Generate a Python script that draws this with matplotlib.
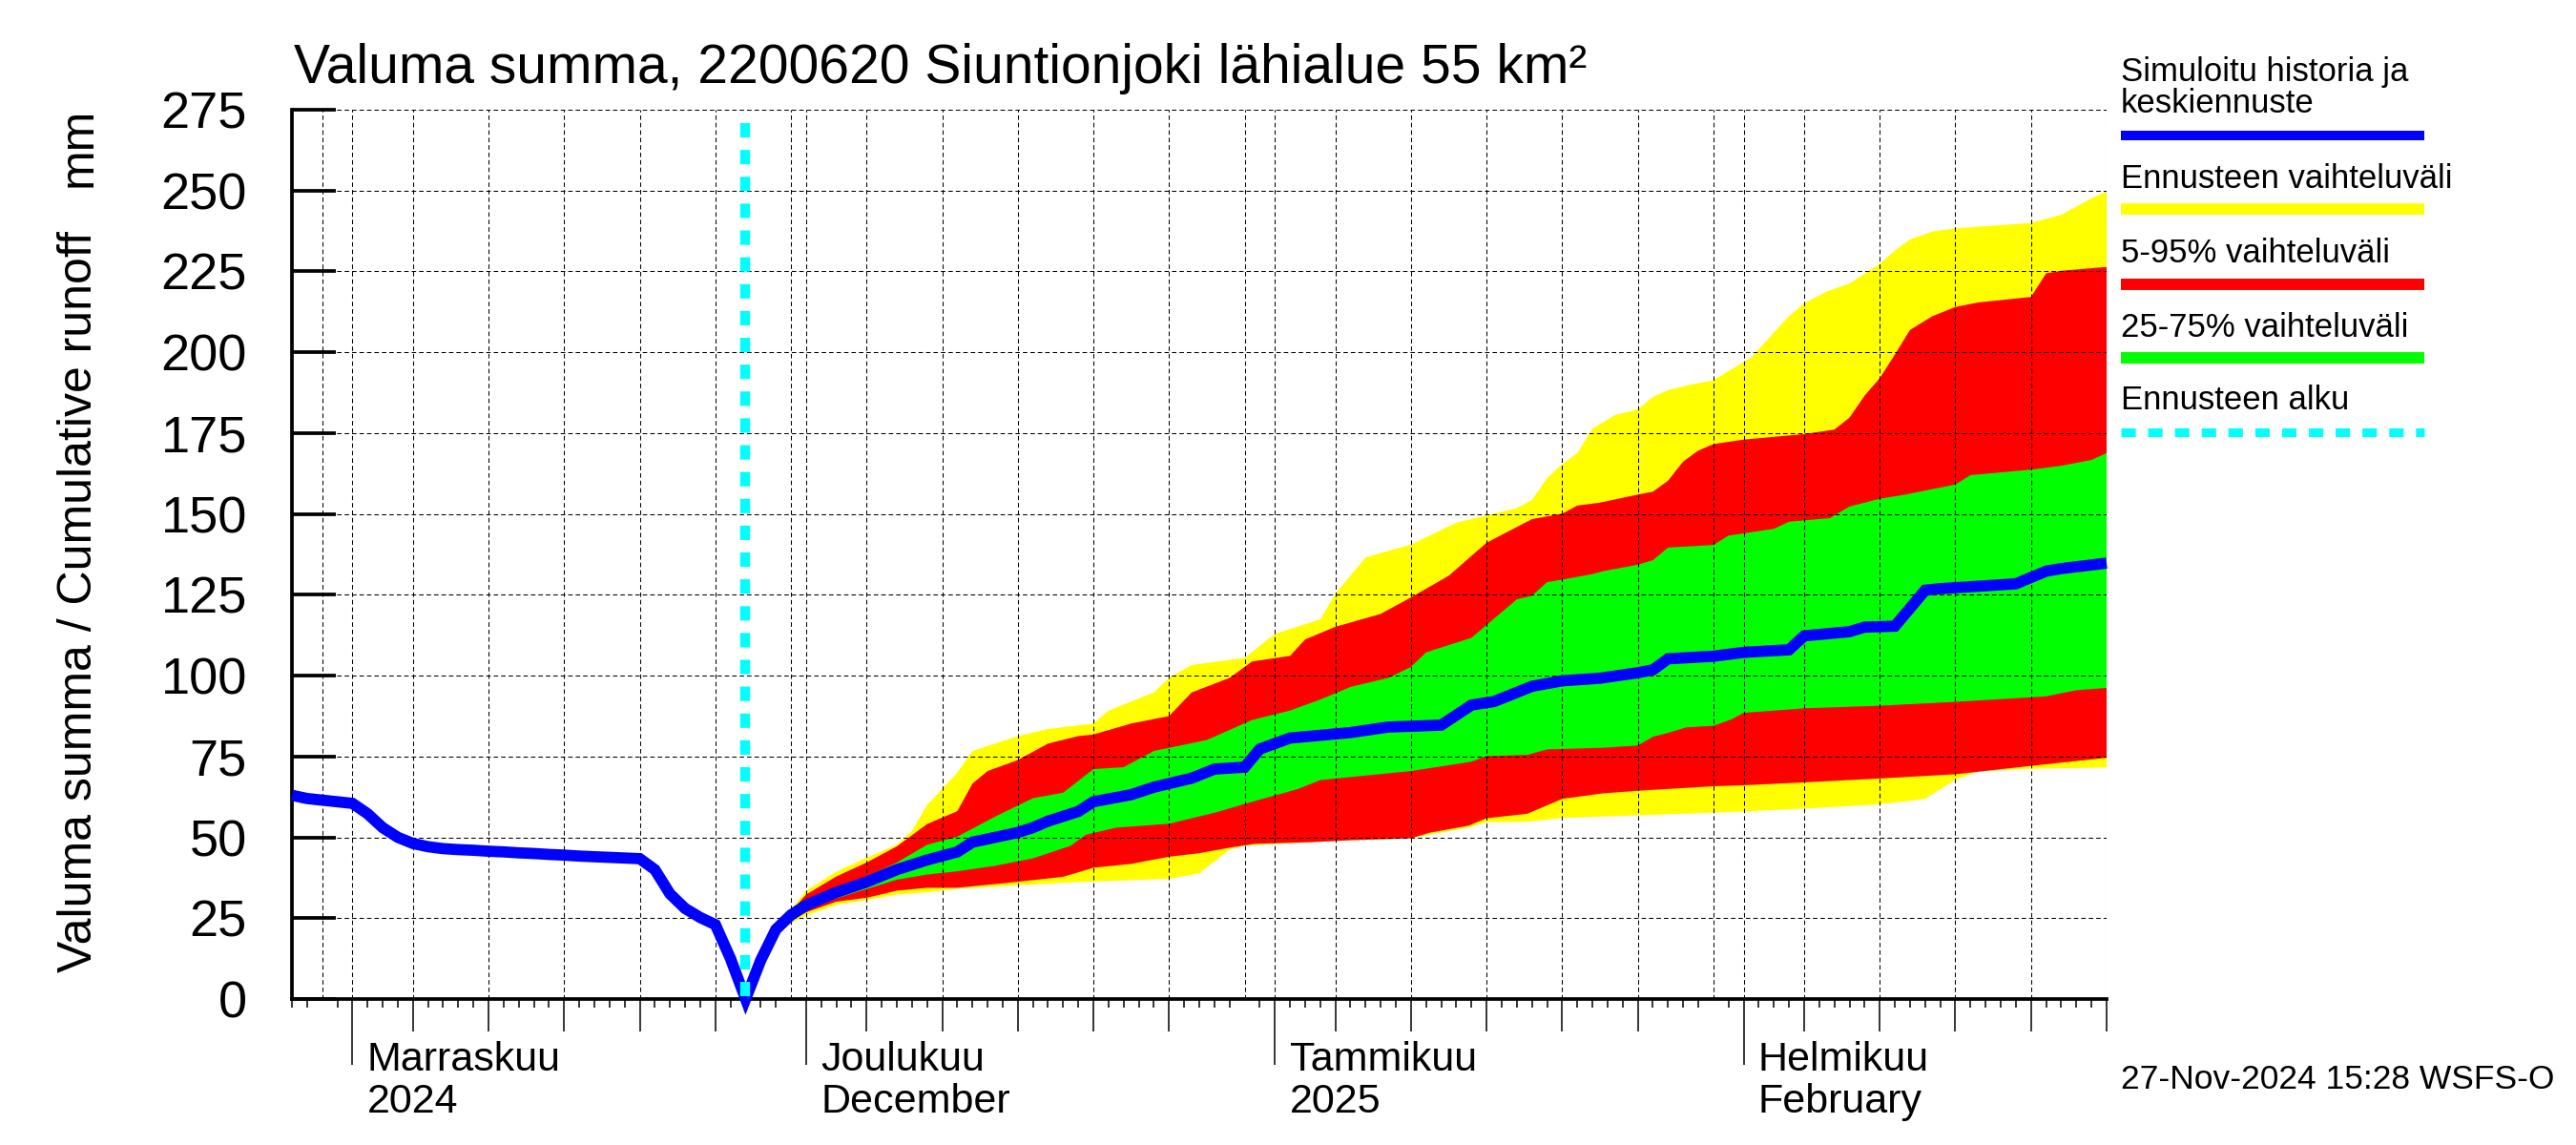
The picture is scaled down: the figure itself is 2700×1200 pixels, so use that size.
import numpy as np
import pandas as pd
import matplotlib
matplotlib.use("Agg")
import matplotlib.pyplot as plt
import matplotlib.dates as mdates
import matplotlib.ticker as mticker
from matplotlib.lines import Line2D

plt.rcParams['font.family'] = ['Liberation Sans', 'DejaVu Sans']

# %% Data (päivät laskettu 1.11.2024 alkaen)

hist_paivat = list(range(-4, 27))
hist_arvot = [63.0, 62.0, 61.5, 61.0, 60.5, 57.3, 53.0, 50.0, 48.1, 47.1, 46.5, 46.2, 46.0, 45.7,
              45.5, 45.2, 45.0, 44.7, 44.5, 44.2, 44.0, 43.8, 43.6, 43.4, 40.0, 32.5, 28.0, 25.2,
              23.0, 12.5, 0.0]

med_paivat = [26, 27, 28, 29, 30, 32, 34, 36, 38, 40, 41, 44, 45, 46, 48, 49, 51.5, 53, 55.5, 57,
              59, 60, 62, 66, 68.5, 72, 74, 75.5, 78, 80, 82.5, 85, 86, 87, 90, 92, 95, 96, 99,
              100, 102, 104, 105, 107, 110, 112, 113, 116]
med_arvot = [0, 12, 21.5, 26, 29, 33, 36.2, 40, 43, 45.5, 48.5, 51.5, 53, 55, 58, 61, 63.2, 65.5,
             68.3, 71.1, 71.7, 77.3, 80.7, 82.4, 84.1, 84.7, 90.9, 92, 96.7, 98.4, 99.2, 100.9,
             101.8, 105.2, 106.0, 107.2, 108.0, 112.3, 113.6, 115.0, 115.3, 126.4, 126.9, 127.5,
             128.4, 132.3, 133.1, 134.8]

max_paivat = [26, 27, 28, 30, 32, 34, 36, 37, 38, 40, 41, 44, 46, 49, 50, 53, 54, 55.5, 59, 61,
              64, 65, 67, 70, 73, 77, 78, 79, 80, 81, 82, 83.5, 85, 86, 87, 88.5, 90, 91, 92.5,
              94, 95, 96, 97.5, 99, 101, 102, 103, 104.5, 106, 111, 113, 115, 116]
max_arvot = [0, 12, 22, 33.5, 39.4, 43.7, 47.7, 52, 60, 70, 76.7, 81.3, 83.5, 85.2, 89.2, 94.8,
             99.3, 103.3, 105.5, 112.9, 117.4, 125.3, 136.6, 140.5, 147.3, 151.8, 154.3, 161.1,
             165.4, 168.8, 176.4, 180.6, 182.3, 186.2, 188.3, 190.0, 191.3, 194.2, 198.4, 206.1,
             211.2, 215.1, 218.8, 221.3, 227.3, 231.5, 234.9, 237.4, 238.3, 240.0, 242.5, 247.6,
             249.7]

p95_paivat = [26, 27, 28, 30, 32, 34, 36, 38, 40, 41, 42, 44, 46, 48, 49, 51.5, 54, 55.5, 58, 59.5,
              62, 63, 65, 68, 70, 72.5, 75, 78, 80, 81, 82.5, 85, 86, 87, 88, 89, 90, 92, 96, 98,
              99, 100, 101, 102, 103, 104.5, 106, 107.5, 111, 112, 113, 116]
p95_arvot = [0, 12, 21.8, 32.3, 37.9, 42.2, 47.2, 54.1, 58.1, 66.6, 70.5, 73.9, 79, 81.3, 81.8,
             85.2, 87.5, 94.8, 99.3, 104.4, 106.1, 111.2, 115.1, 119.1, 124.2, 130.9, 141.1, 148.4,
             150.1, 152.6, 153.5, 156.0, 156.9, 160.3, 166.2, 169.6, 171.6, 173.0, 174.7, 176.1,
             179.8, 186.6, 192.0, 199.3, 206.9, 211.2, 214.0, 215.4, 217.1, 224.4, 225.2, 226.4]

p75_paivat = [26, 27, 28, 30, 32, 34, 36, 38, 40, 42.5, 45, 47, 49, 51, 53, 56.5, 59.5, 62, 64, 66,
              68.5, 70, 71, 74, 77, 78, 79, 80, 82, 82.7, 85, 86, 87, 90, 91, 94, 95, 97.7, 99,
              101, 102.7, 106, 107, 111, 113, 115, 116]
p75_arvot = [0, 12, 21.6, 30.7, 34.5, 37.9, 42.2, 47.7, 50.2, 56.4, 62.1, 63.8, 71.1, 71.7, 76.7,
             80.1, 86.3, 89.2, 92.6, 96.5, 99.3, 102.7, 107.2, 111.7, 123.6, 124.7, 128.9, 129.7,
             131.4, 132.3, 134.3, 135.7, 139.6, 140.4, 143.3, 145.4, 147.6, 148.7, 152.3, 154.7,
             156.0, 159.1, 162.0, 163.7, 164.9, 166.7, 168.8]

p25_paivat = [26, 27, 28, 30, 32, 34, 36, 38, 40, 42.5, 45, 47.5, 48.5, 50.5, 54, 57, 59.5, 62.5,
              64, 70, 74, 75, 77.7, 79, 82.7, 85, 86, 87, 88.2, 90, 91.2, 92, 96, 101, 106, 111,
              112, 114, 116]
p25_arvot = [0, 12, 21.4, 28.1, 31.1, 34.0, 36.9, 38.5, 39.5, 41.2, 43.5, 47.4, 50.8, 53.0, 54.2,
             57.6, 61.0, 64.9, 67.7, 70.5, 73.4, 75.1, 75.5, 77.2, 77.7, 78.4, 81.1, 82.3, 84.0,
             84.5, 86.5, 88.5, 89.9, 90.7, 91.9, 93.3, 93.6, 95.5, 96.2]

p05_paivat = [26, 27, 28, 30, 32, 34, 36, 38, 40, 43.7, 47, 49, 51.5, 54, 56, 58, 59.7, 63.4, 66,
              70, 71.2, 73.8, 75, 77.7, 80, 82.7, 85, 90, 92, 96, 101, 106, 111, 116]
p05_arvot = [0, 12, 21.2, 26.8, 30.1, 31.3, 33.5, 34.4, 34.4, 36.1, 37.8, 40.6, 41.8, 44.0, 45.1,
             46.8, 48.0, 48.5, 49.1, 49.7, 51.4, 53.6, 55.9, 57.3, 61.9, 63.6, 64.4, 65.8, 66.1,
             67.0, 68.2, 69.5, 72.1, 74.6]

min_paivat = [26, 27, 28, 30, 32, 34, 36, 38, 40, 47.7, 54, 56, 58, 59, 63.4, 66, 70, 71.2, 73.8,
              75, 77.7, 80, 85, 92, 96, 101, 104, 106, 107.5, 111, 116]
min_arvot = [0, 12, 21, 25.8, 29.1, 30.6, 32.3, 33.0, 34.1, 36.1, 37.2, 38.9, 46.2, 47.4, 48.5,
             49.1, 49.7, 50.8, 53.0, 54.7, 54.8, 56.0, 56.8, 58.0, 58.9, 60.2, 61.9, 67.8, 70.4,
             71.2, 71.6]

ennuste_alku = 26

kuukaudet = ["2024-11-01", "2024-12-01", "2025-01-01", "2025-02-01"]
kk_rivi1 = ["Marraskuu", "Joulukuu", "Tammikuu", "Helmikuu"]
kk_rivi2 = ["2024", "December", "2025", "February"]

otsikko = "Valuma summa, 2200620 Siuntionjoki lähialue 55 km²"
selitteet = ["Ennusteen vaihteluväli", "5-95% vaihteluväli", "25-75% vaihteluväli", "Ennusteen alku"]
aikaleima = "27-Nov-2024 15:28 WSFS-O"

PAIVA0 = mdates.date2num(np.datetime64("2024-11-01"))


def pv(paivat):
    return PAIVA0 + np.asarray(paivat, dtype=float)


def kaista(ax, yla_p, yla, ala_p, ala, vari):
    x = np.concatenate([pv(yla_p), pv(ala_p)[::-1]])
    y = np.concatenate([np.asarray(yla, float), np.asarray(ala, float)[::-1]])
    ax.fill(x, y, color=vari, lw=0, zorder=1)


# %% Kuva

fig = plt.figure(figsize=(27, 12), dpi=100)
ax = fig.add_axes([306 / 2700, 1 - 1047 / 1200, (2208 - 306) / 2700, (1047 - 115) / 1200])

kaista(ax, max_paivat, max_arvot, min_paivat, min_arvot, "#ffff00")
kaista(ax, p95_paivat, p95_arvot, p05_paivat, p05_arvot, "#ff0000")
kaista(ax, p75_paivat, p75_arvot, p25_paivat, p25_arvot, "#00ff00")

# historia + keskiennuste yhtenä viivana (terävä kärki ennusteen alussa)
ax.plot(pv(hist_paivat + med_paivat[1:]), hist_arvot + med_arvot[1:], color="#0000ff", lw=8.5,
        zorder=3, solid_joinstyle="miter", solid_capstyle="butt", clip_on=False)
ax.plot(pv([ennuste_alku, ennuste_alku]), [271, 0], color="#00ffff", lw=7.5,
        linestyle=(0, (1.45, 1.25)), zorder=4)

ax.set_xlim(pv(-4), pv(116))
ax.set_ylim(0, 275)

# akselit
for s in ("top", "right"):
    ax.spines[s].set_visible(False)
for s in ("left", "bottom"):
    ax.spines[s].set_linewidth(2.7)
ax.set_axisbelow(False)

ax.yaxis.set_major_locator(mticker.MultipleLocator(25))
ax.tick_params(axis="y", direction="in", length=33, width=2.7, labelsize=39, pad=34)

# päivämäärien jaot
paivat = pd.date_range("2024-10-28", "2025-02-25", freq="D")
paivanro = mdates.date2num(paivat.to_pydatetime())
pv_kk = np.asarray(paivat.day)
ruudukko = paivanro[np.isin(pv_kk, [1, 5, 10, 15, 20, 25, 30])]
keski = paivanro[np.isin(pv_kk, [5, 10, 15, 20, 25])]
kk_alut = paivanro[pv_kk == 1]

ax.xaxis.set_major_locator(mticker.FixedLocator(ruudukko))
ax.xaxis.set_minor_locator(mticker.FixedLocator(paivanro))
ax.tick_params(axis="x", which="major", length=0, labelbottom=False)
ax.tick_params(axis="x", which="minor", direction="out", length=6.5, width=1.1)
ax.grid(True, which="major", color="black", linestyle=(0, (4.5, 3)), linewidth=0.75)

for paikat, pituus in ((keski, 24.5), (kk_alut, 50)):
    sec = ax.secondary_xaxis("bottom")
    sec.xaxis.set_major_locator(mticker.FixedLocator(paikat))
    sec.xaxis.set_minor_locator(mticker.NullLocator())
    sec.tick_params(which="major", direction="out", length=pituus, width=1.1, labelbottom=False)
    sec.spines["bottom"].set_visible(False)

for kk, r1, r2 in zip(kuukaudet, kk_rivi1, kk_rivi2):
    x = mdates.date2num(np.datetime64(kk))
    ax.annotate(r1, xy=(x, 0), xycoords=("data", "axes fraction"), xytext=(11, -54),
                textcoords="offset points", ha="left", va="baseline", fontsize=31)
    ax.annotate(r2, xy=(x, 0), xycoords=("data", "axes fraction"), xytext=(11, -85.7),
                textcoords="offset points", ha="left", va="baseline", fontsize=31)

# tekstit
fig.text(308 / 2700, 1 - 87 / 1200, otsikko, fontsize=41, ha="left", va="baseline")
fig.text(83 / 2700, 1 - 1019 / 1200, "Valuma summa / Cumulative runoff", fontsize=36,
         rotation=90, ha="center", va="bottom")
fig.text(83 / 2700, 1 - 113 / 1200, "mm", fontsize=36, rotation=90, ha="center", va="top")
fig.text(2223 / 2700, 1 - 1141 / 1200, aikaleima, fontsize=25.5, ha="left", va="baseline")

# selite
x0, x1 = 2223 / 2700, 2541 / 2700
fig.text(x0, 1 - 85 / 1200, "Simuloitu historia ja", fontsize=25, va="baseline")
fig.text(x0, 1 - 118 / 1200, "keskiennuste", fontsize=25, va="baseline")
fig.add_artist(Line2D([x0, x1], [1 - 142 / 1200] * 2, color="#0000ff", lw=7.2,
                      transform=fig.transFigure, solid_capstyle="butt"))
rivit = [(197, 219, "#ffff00"), (275, 298, "#ff0000"), (353, 375, "#00ff00")]
for teksti, (yt, yv, vari) in zip(selitteet[:3], rivit):
    fig.text(x0, 1 - yt / 1200, teksti, fontsize=25, va="baseline")
    fig.add_artist(Line2D([x0, x1], [1 - yv / 1200] * 2, color=vari, lw=8.6,
                          transform=fig.transFigure, solid_capstyle="butt"))
fig.text(x0, 1 - 429 / 1200, selitteet[3], fontsize=25, va="baseline")
fig.add_artist(Line2D([x0, x1], [1 - 453 / 1200] * 2, color="#00ffff", lw=6.5,
                      linestyle=(0, (1.67, 1.44)), transform=fig.transFigure,
                      dash_capstyle="butt"))

fig.savefig("out.png", dpi=100)
